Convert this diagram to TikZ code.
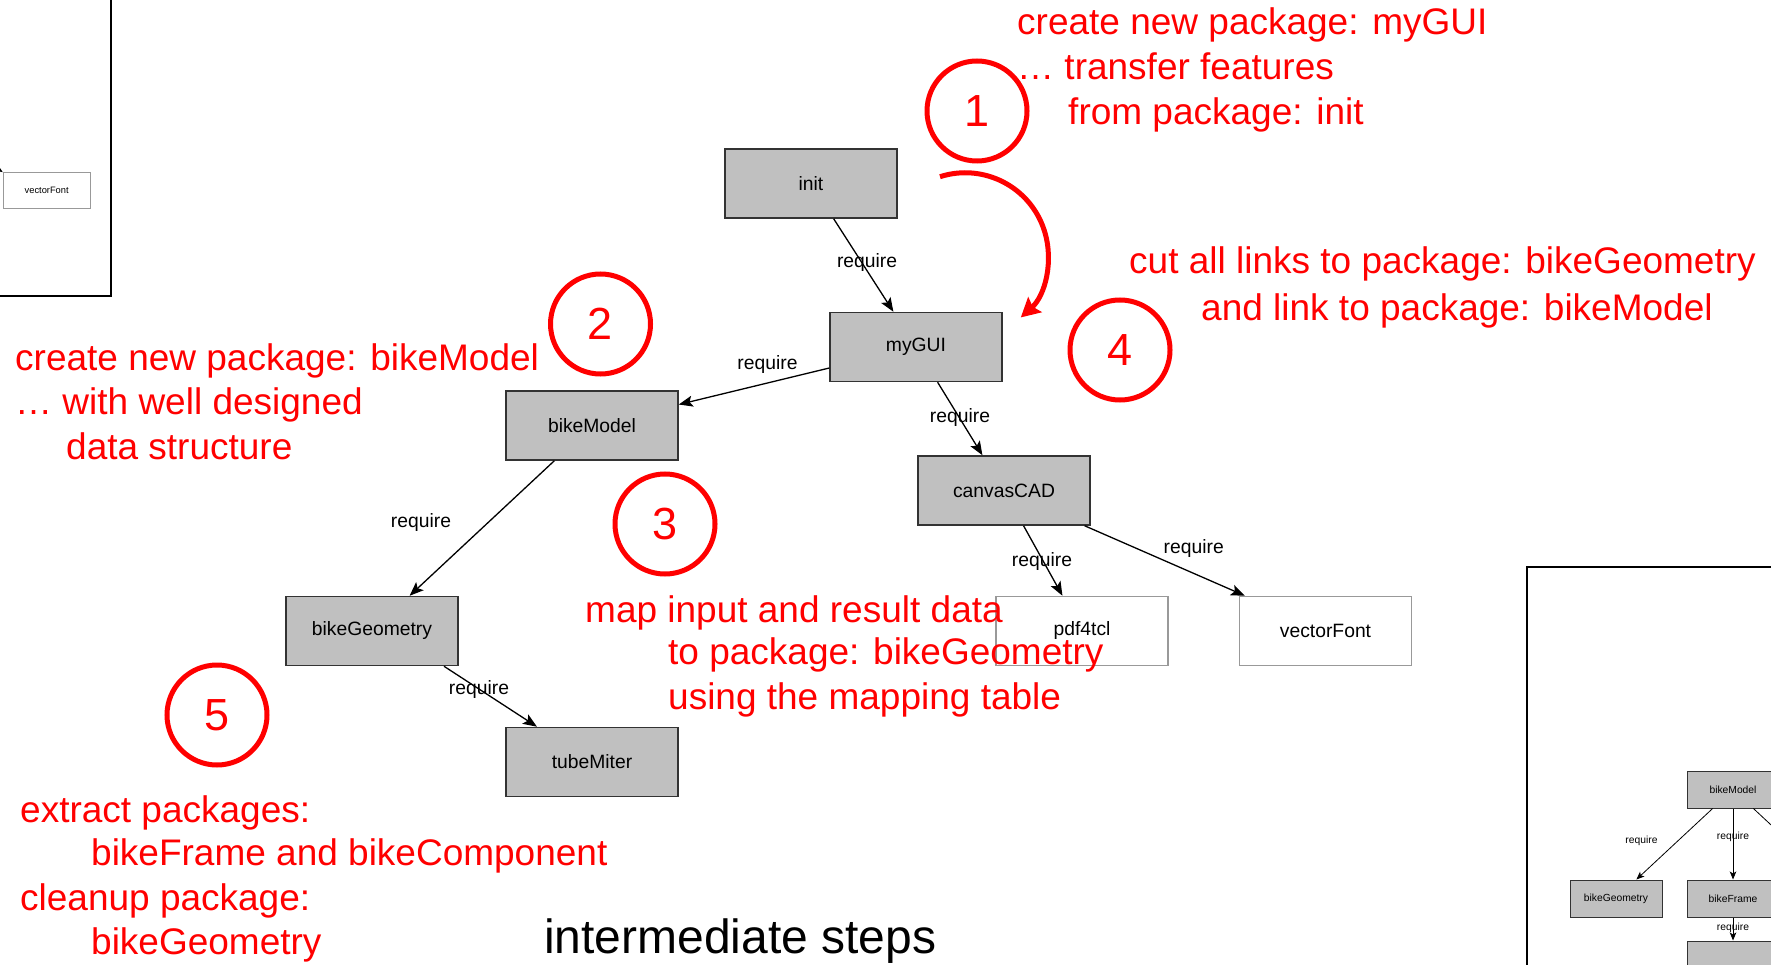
\documentclass[tikz,border=0pt]{standalone}
\usepackage{fontspec}
\setmainfont{Liberation Sans}
\usetikzlibrary{arrows.meta}
\definecolor{boxfill}{HTML}{C0C0C0}
\definecolor{boxline}{HTML}{333333}
\definecolor{extline}{HTML}{999999}
\definecolor{notered}{HTML}{FF0000}
\begin{document}
\begin{tikzpicture}[x=1pt,y=-1pt,
  pkg/.style={draw=boxline, line width=1.5pt, fill=boxfill, minimum width=172pt, minimum height=69pt, inner sep=0pt, font=\fontsize{19.3}{23}\selectfont},
  ext/.style={pkg, fill=white, draw=extline},
  pkgsmall/.style={draw=boxline, line width=1pt, fill=boxfill, minimum width=92pt, minimum height=37pt, inner sep=0pt, font=\fontsize{10.3}{12}\selectfont},
  extsmall/.style={draw=extline, line width=1pt, fill=white, minimum width=87pt, minimum height=35.5pt, inner sep=0pt, font=\fontsize{9.3}{11}\selectfont},
  req/.style={-{Stealth[length=14pt,width=11pt,inset=3pt]}, line width=1.3pt, black},
  reqsmall/.style={-{Stealth[length=8pt,width=6.5pt,inset=2pt]}, line width=0.8pt, black},
  lbl/.style={font=\fontsize{19.3}{23}\selectfont, inner sep=0pt, midway},
  lblsmall/.style={font=\fontsize{10.3}{12}\selectfont, inner sep=0pt, midway},
  stepcircle/.style={circle, draw=notered, line width=5pt, minimum size=100pt, inner sep=0pt, text=notered, font=\fontsize{45}{50}\selectfont},
  note/.style={text=notered, font=\fontsize{37}{45}\selectfont, inner sep=0pt, anchor=base west},
  frameline/.style={draw=black, line width=2pt}
]
\useasboundingbox (0,0) rectangle (1771,965);
\fill[white] (0,0) rectangle (1771,965);
\clip (0,0) rectangle (1771,965);

% --- partial frame top-left
\draw[frameline] (-20,-20) rectangle (111,296);
\node[extsmall] (vf1) at (46.7,190.4) {vectorFont};
\coordinate (off1) at (-60,130);
\draw[reqsmall] (off1) -- (vf1.north west);

% --- partial frame bottom-right
\draw[frameline] (1527,567) rectangle (1820,1010);
\node[pkgsmall] (bm2) at (1733,789.5) {bikeModel};
\node[pkgsmall] (bg2) at (1616,898.5) {bikeGeometry};
\node[pkgsmall] (bf2) at (1733,898.5) {bikeFrame};
\node[pkgsmall] (bt2) at (1733,959.5) {};
\coordinate (bc2) at (1850,898.5);
\draw[reqsmall] (bm2) -- node[lblsmall, shift={(-33,-3)}] (r21) {require} (bg2);
\draw[reqsmall] (bm2) -- node[lblsmall, shift={(0,-7)}] (r22) {require} (bf2);
\draw[line width=0.8pt] (bm2) -- (bc2);
\draw[reqsmall] (bf2) -- node[lblsmall, shift={(0,-1)}] (r23) {require} (bt2);

% --- main package graph
\node[pkg] (init) at (811,183.5) {init};
\node[pkg] (gui) at (916,347) {myGUI};
\node[pkg] (cad) at (1004,490.5) {canvasCAD};
\node[pkg] (model) at (592,425.5) {bikeModel};
\node[pkg] (geo) at (372,631) {bikeGeometry};
\node[pkg] (tube) at (592,762) {tubeMiter};
\node[ext] (pdf) at (1082,631) {pdf4tcl};
\node[ext] (vfont) at (1325.5,631) {vectorFont};

\draw[req] (init) -- node[lbl, shift={(3.5,-3)}] (l1) {require} (gui);
\draw[req] (gui) -- node[lbl, shift={(13.5,-21.5)}] (l2) {require} (model);
\draw[req] (gui) -- node[lbl, shift={(0,-1)}] (l3) {require} (cad);
\draw[req] (model) -- node[lbl, shift={(-61,-6)}] (l4) {require} (geo);
\draw[req] ([xshift=72pt]geo.south) -- node[lbl, shift={(-11.5,-6.5)}] (l5) {require} ([xshift=-55pt]tube.north);
\draw[req] (cad) -- node[lbl, shift={(-1,1)}] (l6) {require} (pdf);
\draw[req] (cad) -- node[lbl, shift={(29,-12)}] (l7) {require} (vfont);

% --- red step markers
\node[stepcircle] (s1) at (977,111) {1};
\node[stepcircle] (s2) at (600.5,324) {2};
\node[stepcircle] (s3) at (665,524) {3};
\node[stepcircle] (s4) at (1120,350) {4};
\node[stepcircle] (s5) at (217,715) {5};

\coordinate (bendstart) at (940,176.7);
\draw[notered, line width=5pt, -{Stealth[length=19pt,width=20pt,inset=3pt]}] (bendstart) arc[start angle=-107.7, end angle=48, radius=83];

% --- red notes
\node[note] (n1a) at (1017,35) {create new package: myGUI};
\node[note] (n1b) at (1017,80) {… transfer features};
\node[note] (n1c) at (1068,125) {from package: init};

\node[note] (n4a) at (1129,274) {cut all links to package: bikeGeometry};
\node[note] (n4b) at (1201,320) {and link to package: bikeModel};

\node[note] (n2a) at (15,370) {create new package: bikeModel};
\node[note] (n2b) at (15,414) {… with well designed};
\node[note] (n2c) at (66,459) {data structure};

\node[note] (n3a) at (585,622) {map input and result data};
\node[note] (n3b) at (668,664) {to package: bikeGeometry};
\node[note] (n3c) at (668,709) {using the mapping table};

\node[note] (n5a) at (20,822) {extract packages:};
\node[note] (n5b) at (91,865) {bikeFrame and bikeComponent};
\node[note] (n5c) at (20,910) {cleanup package:};
\node[note] (n5d) at (91,954) {bikeGeometry};

\node[inner sep=0pt, anchor=base west, font=\fontsize{48}{55}\selectfont] (title) at (544,953) {intermediate steps};
\end{tikzpicture}
\end{document}
